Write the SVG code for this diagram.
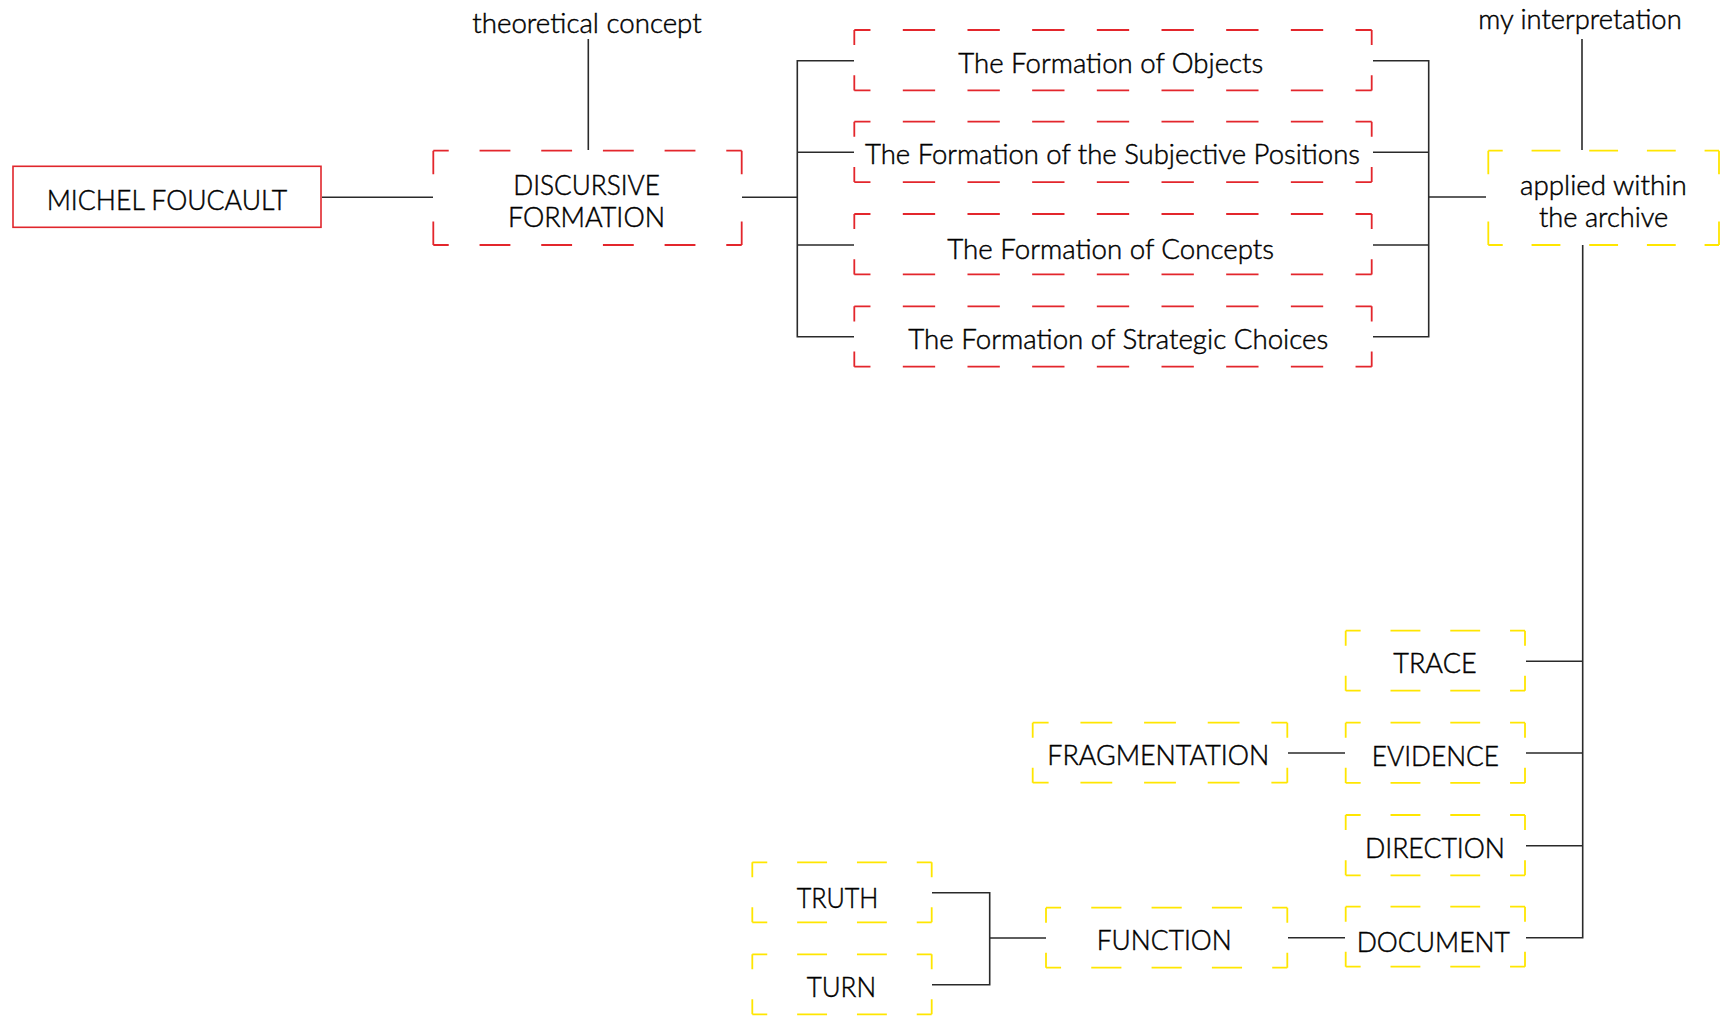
<svg xmlns="http://www.w3.org/2000/svg" width="1720" height="1017" viewBox="0 0 1720 1017">
  <style>
    text { font-family: Lato, "Liberation Sans", sans-serif; font-size: 26.5px; font-weight: 300; fill: #000; stroke: #000; stroke-width: 0.45; }
    .link { fill: none; stroke: #2a2a2a; stroke-width: 1.6; }
    .solid { fill: #fff; stroke: #e0262c; stroke-width: 1.6; }
    .edge { fill: none; stroke-width: 1.8; stroke-dasharray: 1 1; stroke-dashoffset: 0.5; }
    .red .edge { stroke: #e3262c; }
    .yellow .edge { stroke: #ffe600; }
  </style>

  <!-- connectors -->
  <g id="connectors">
    <path class="link" d="M322 197.3 H433"/>
    <path class="link" d="M588.3 39 V150"/>
    <path class="link" d="M742 197.3 H797.3"/>
    <path class="link" d="M854 60.7 H797.3 V336.7 H854 M797.3 152.3 H854 M797.3 245 H854"/>
    <path class="link" d="M1373 60.7 H1428.7 V336.7 H1373 M1428.7 152.3 H1373 M1428.7 245 H1373 M1428.7 197 H1486"/>
    <path class="link" d="M1582 39 V150"/>
    <path class="link" d="M1582.7 245 V937.7 H1526 M1582.7 661.3 H1526 M1582.7 753 H1526 M1582.7 845.7 H1526"/>
    <path class="link" d="M1288 753 H1345"/>
    <path class="link" d="M1288 937.7 H1345"/>
    <path class="link" d="M932 892.7 H989.7 V984.7 H932 M989.7 938 H1046"/>
  </g>

  <!-- annotations -->
  <g id="label-theory">
    <text x="472.3" y="33" textLength="229.4" lengthAdjust="spacingAndGlyphs">theoretical concept</text>
  </g>
  <g id="label-interpretation">
    <text x="1478.3" y="29.3" textLength="203.4" lengthAdjust="spacingAndGlyphs">my interpretation</text>
  </g>

  <!-- nodes -->
  <g id="foucault">
    <rect class="solid" x="13" y="166.3" width="308" height="61"/>
    <text x="46.7" y="210" textLength="240.6" lengthAdjust="spacingAndGlyphs">MICHEL FOUCAULT</text>
  </g>

  <g id="discursive-formation" class="red">
    <path class="edge" d="M433.3 150.7 h308.4" pathLength="10"/>
    <path class="edge" d="M433.3 245 h308.4" pathLength="10"/>
    <path class="edge" d="M433.3 150.7 v94.3" pathLength="2"/>
    <path class="edge" d="M741.7 150.7 v94.3" pathLength="2"/>
    <text x="513.3" y="195" textLength="146.7" lengthAdjust="spacingAndGlyphs">DISCURSIVE</text>
    <text x="508" y="226.7" textLength="157" lengthAdjust="spacingAndGlyphs">FORMATION</text>
  </g>

  <g id="formation-objects" class="red">
    <path class="edge" d="M854.3 30 h517.4" pathLength="16"/>
    <path class="edge" d="M854.3 90.4 h517.4" pathLength="16"/>
    <path class="edge" d="M854.3 30 v60.4" pathLength="2"/>
    <path class="edge" d="M1371.7 30 v60.4" pathLength="2"/>
    <text x="958.3" y="73.3" textLength="305" lengthAdjust="spacingAndGlyphs">The Formation of Objects</text>
  </g>

  <g id="formation-subjective" class="red">
    <path class="edge" d="M854.3 121.7 h517.4" pathLength="16"/>
    <path class="edge" d="M854.3 182.1 h517.4" pathLength="16"/>
    <path class="edge" d="M854.3 121.7 v60.4" pathLength="2"/>
    <path class="edge" d="M1371.7 121.7 v60.4" pathLength="2"/>
    <text x="865" y="164.3" textLength="495" lengthAdjust="spacingAndGlyphs">The Formation of the Subjective Positions</text>
  </g>

  <g id="formation-concepts" class="red">
    <path class="edge" d="M854.3 214 h517.4" pathLength="16"/>
    <path class="edge" d="M854.3 274.4 h517.4" pathLength="16"/>
    <path class="edge" d="M854.3 214 v60.4" pathLength="2"/>
    <path class="edge" d="M1371.7 214 v60.4" pathLength="2"/>
    <text x="947.3" y="259" textLength="326.7" lengthAdjust="spacingAndGlyphs">The Formation of Concepts</text>
  </g>

  <g id="formation-strategic" class="red">
    <path class="edge" d="M854.3 306.3 h517.4" pathLength="16"/>
    <path class="edge" d="M854.3 366.7 h517.4" pathLength="16"/>
    <path class="edge" d="M854.3 306.3 v60.4" pathLength="2"/>
    <path class="edge" d="M1371.7 306.3 v60.4" pathLength="2"/>
    <text x="908.3" y="349.3" textLength="420" lengthAdjust="spacingAndGlyphs">The Formation of Strategic Choices</text>
  </g>

  <g id="archive" class="yellow">
    <path class="edge" d="M1488.3 150.7 h230.7" pathLength="8"/>
    <path class="edge" d="M1488.3 245 h230.7" pathLength="8"/>
    <path class="edge" d="M1488.3 150.7 v94.3" pathLength="2"/>
    <path class="edge" d="M1719 150.7 v94.3" pathLength="2"/>
    <text x="1520" y="195" textLength="166.7" lengthAdjust="spacingAndGlyphs">applied within</text>
    <text x="1539" y="226.7" textLength="129.3" lengthAdjust="spacingAndGlyphs">the archive</text>
  </g>

  <g id="trace" class="yellow">
    <path class="edge" d="M1345.7 630.7 h179.3" pathLength="6"/>
    <path class="edge" d="M1345.7 690.7 h179.3" pathLength="6"/>
    <path class="edge" d="M1345.7 630.7 v60" pathLength="2"/>
    <path class="edge" d="M1525 630.7 v60" pathLength="2"/>
    <text x="1393.3" y="673.3" textLength="83.3" lengthAdjust="spacingAndGlyphs">TRACE</text>
  </g>

  <g id="evidence" class="yellow">
    <path class="edge" d="M1345.7 722.7 h179.3" pathLength="6"/>
    <path class="edge" d="M1345.7 782.9 h179.3" pathLength="6"/>
    <path class="edge" d="M1345.7 722.7 v60.2" pathLength="2"/>
    <path class="edge" d="M1525 722.7 v60.2" pathLength="2"/>
    <text x="1371.7" y="765.7" textLength="127.3" lengthAdjust="spacingAndGlyphs">EVIDENCE</text>
  </g>

  <g id="direction" class="yellow">
    <path class="edge" d="M1345.7 815 h179.3" pathLength="6"/>
    <path class="edge" d="M1345.7 875.3 h179.3" pathLength="6"/>
    <path class="edge" d="M1345.7 815 v60.3" pathLength="2"/>
    <path class="edge" d="M1525 815 v60.3" pathLength="2"/>
    <text x="1365" y="857.7" textLength="140" lengthAdjust="spacingAndGlyphs">DIRECTION</text>
  </g>

  <g id="document" class="yellow">
    <path class="edge" d="M1345.7 906.7 h179.3" pathLength="6"/>
    <path class="edge" d="M1345.7 966.7 h179.3" pathLength="6"/>
    <path class="edge" d="M1345.7 906.7 v60" pathLength="2"/>
    <path class="edge" d="M1525 906.7 v60" pathLength="2"/>
    <text x="1356.7" y="951.7" textLength="153.3" lengthAdjust="spacingAndGlyphs">DOCUMENT</text>
  </g>

  <g id="fragmentation" class="yellow">
    <path class="edge" d="M1032.7 722.7 h254.6" pathLength="8"/>
    <path class="edge" d="M1032.7 782.7 h254.6" pathLength="8"/>
    <path class="edge" d="M1032.7 722.7 v60" pathLength="2"/>
    <path class="edge" d="M1287.3 722.7 v60" pathLength="2"/>
    <text x="1047.3" y="765" textLength="222" lengthAdjust="spacingAndGlyphs">FRAGMENTATION</text>
  </g>

  <g id="function" class="yellow">
    <path class="edge" d="M1046 907.7 h241.3" pathLength="8"/>
    <path class="edge" d="M1046 967.7 h241.3" pathLength="8"/>
    <path class="edge" d="M1046 907.7 v60" pathLength="2"/>
    <path class="edge" d="M1287.3 907.7 v60" pathLength="2"/>
    <text x="1096.7" y="950" textLength="135" lengthAdjust="spacingAndGlyphs">FUNCTION</text>
  </g>

  <g id="truth" class="yellow">
    <path class="edge" d="M752.3 862.3 h179.4" pathLength="6"/>
    <path class="edge" d="M752.3 922.3 h179.4" pathLength="6"/>
    <path class="edge" d="M752.3 862.3 v60" pathLength="2"/>
    <path class="edge" d="M931.7 862.3 v60" pathLength="2"/>
    <text x="796.7" y="907.7" textLength="81.7" lengthAdjust="spacingAndGlyphs">TRUTH</text>
  </g>

  <g id="turn" class="yellow">
    <path class="edge" d="M752.3 954.3 h179.4" pathLength="6"/>
    <path class="edge" d="M752.3 1014.3 h179.4" pathLength="6"/>
    <path class="edge" d="M752.3 954.3 v60" pathLength="2"/>
    <path class="edge" d="M931.7 954.3 v60" pathLength="2"/>
    <text x="806.7" y="997.3" textLength="69.3" lengthAdjust="spacingAndGlyphs">TURN</text>
  </g>
</svg>
